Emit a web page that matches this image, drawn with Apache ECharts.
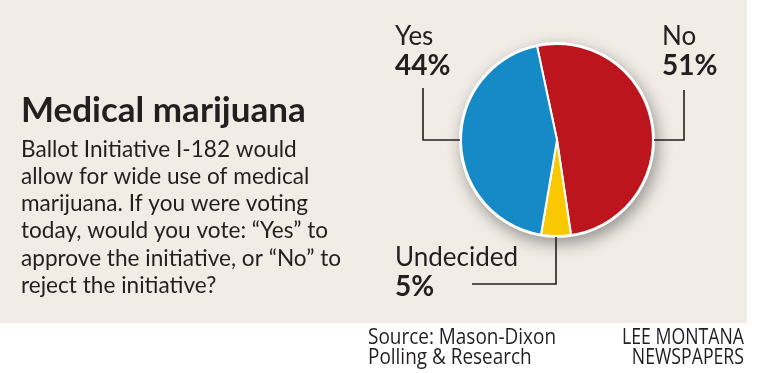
<!DOCTYPE html>
<html>
<head>
<meta charset="utf-8">
<script src="https://cdn.jsdelivr.net/npm/echarts@6/dist/echarts.min.js"></script>
<style>
html,body{margin:0;padding:0;background:#fff;}
#chart{width:762px;height:373px;}
</style>
</head>
<body>
<div id="chart"></div>
<script>
// ---- data ----
const categories = ['No', 'Undecided', 'Yes'];
const values = [51, 5, 44];
const sliceColors = ['#bd151d', '#f9c800', '#158ac6'];
const titleText = 'Medical marijuana';
const bodyLines = [
  'Ballot Initiative I-182 would',
  'allow for wide use of medical',
  'marijuana. If you were voting',
  'today, would you vote: \u201cYes\u201d to',
  'approve the initiative, or \u201cNo\u201d to',
  'reject the initiative?'
];
const sourceLines = ['Source: Mason-Dixon', 'Polling & Research'];
const creditLines = ['LEE MONTANA', 'NEWSPAPERS'];

// ---- layout ----
const CX = 557, CY = 140, R = 96;
const INK = '#231f20';
const FONT = 'Lato, "Open Sans", sans-serif';
const FOOT_FONT_CSS = '21px "Open Sans", Lato, sans-serif';

// horizontal squeeze so footer text matches the reference widths
const measureCtx = document.createElement('canvas').getContext('2d');
function squeeze(text, targetWidth) {
  measureCtx.font = FOOT_FONT_CSS;
  return targetWidth / measureCtx.measureText(text).width;
}
const sourceScale = squeeze(sourceLines[0], 188);
const creditScale = squeeze(creditLines[0], 122);

// label box top-left and leader-line geometry per slice (by category)
const labelPlace = {
  'No':        { x: 662, y: 22,  line: () => [[CX + R, CY], [684, CY], [684, 90]] },
  'Undecided': { x: 395, y: 243, line: () => [[556, CY + R - 2], [556, 284], [472, 284]] },
  'Yes':       { x: 395, y: 22,  line: () => [[CX - R, CY], [423, CY], [423, 88]] }
};

const chart = echarts.init(document.getElementById('chart'), null, { renderer: 'canvas' });

chart.setOption({
  backgroundColor: '#ffffff',
  animation: false,
  graphic: [
    {
      type: 'rect', z: -10, silent: true,
      shape: { x: 0, y: 0, width: 747, height: 323 },
      style: { fill: '#f1ece6' }
    },
    {
      type: 'text', silent: true, x: 368, y: 328, scaleX: sourceScale,
      style: { text: sourceLines.join('\n'), font: FOOT_FONT_CSS, fill: INK, lineHeight: 20,
               align: 'left', verticalAlign: 'top' }
    },
    {
      type: 'text', silent: true, x: 744, y: 328, scaleX: creditScale,
      style: { text: creditLines.join('\n'), font: FOOT_FONT_CSS, fill: INK, lineHeight: 20,
               align: 'right', verticalAlign: 'top' }
    }
  ],
  title: [
    {
      text: titleText, left: 21, top: 91, padding: 0,
      textStyle: { fontFamily: FONT, fontWeight: 'bold', fontSize: 35, color: INK, lineHeight: 40 }
    },
    {
      text: bodyLines.join('\n'), left: 21, top: 136, padding: 0,
      textStyle: { fontFamily: FONT, fontWeight: 'normal', fontSize: 22.6, color: INK, lineHeight: 27.2 }
    }
  ],
  series: [
    {
      // white backing disc with drop shadow
      type: 'pie', silent: true, z: 1,
      center: [CX, CY], radius: R + 2,
      label: { show: false }, labelLine: { show: false },
      itemStyle: {
        color: '#ffffff',
        shadowBlur: 16, shadowColor: 'rgba(0,0,0,0.38)', shadowOffsetX: 3, shadowOffsetY: 6
      },
      data: [{ value: 1, name: '' }]
    },
    {
      type: 'pie', z: 2,
      center: [CX, CY], radius: R,
      startAngle: 102, clockwise: true,
      avoidLabelOverlap: false,
      itemStyle: { borderColor: '#ffffff', borderWidth: 2 },
      label: {
        show: true, position: 'outside',
        formatter: p => '{n|' + p.name + '}\n{p|' + p.value + '%}',
        rich: {
          n: { fontFamily: FONT, fontSize: 26, fontWeight: 'normal', color: INK, lineHeight: 29, align: 'left' },
          p: { fontFamily: FONT, fontSize: 28, fontWeight: 'bold', color: INK, lineHeight: 29, align: 'left' }
        }
      },
      labelLine: { show: true, lineStyle: { color: INK, width: 1.6 } },
      labelLayout: function (params) {
        const name = categories[params.dataIndex];
        const pl = labelPlace[name];
        return {
          x: pl.x, y: pl.y, align: 'left', verticalAlign: 'top',
          labelLinePoints: pl.line()
        };
      },
      emphasis: { disabled: true },
      data: categories.map((c, i) => ({ name: c, value: values[i], itemStyle: { color: sliceColors[i] } }))
    }
  ]
});
</script>
</body>
</html>
